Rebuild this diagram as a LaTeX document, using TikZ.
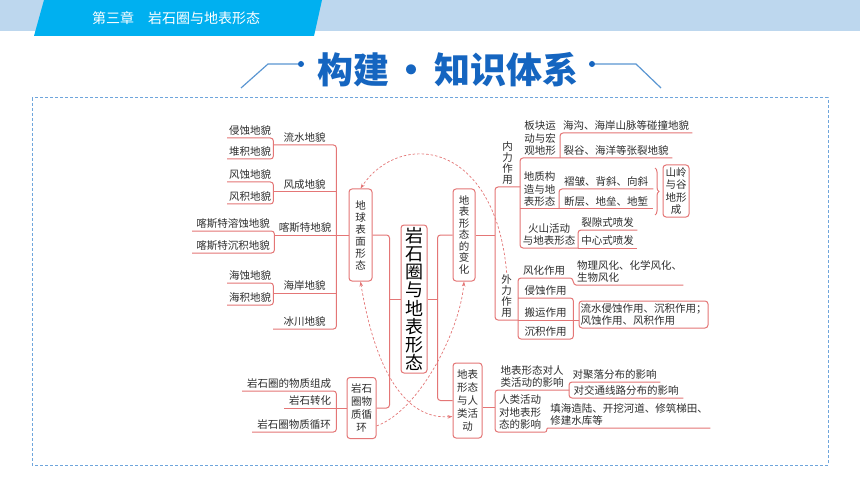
\documentclass[tikz,border=0pt]{standalone}
\usepackage{fontspec}
\setmainfont{Noto Sans CJK SC}
\usetikzlibrary{arrows.meta,calc,decorations.pathreplacing}

\definecolor{linkred}{RGB}{228,118,118}
\definecolor{txtgray}{RGB}{45,45,45}
\definecolor{hdrlight}{RGB}{189,215,238}
\definecolor{hdrdark}{RGB}{0,176,240}
\definecolor{titleblue}{RGB}{21,101,192}
\definecolor{lineblue}{RGB}{90,150,210}
\definecolor{frameblue}{RGB}{110,165,220}

\tikzset{
  mapline/.style={draw=linkred, line width=1pt},
  mapbox/.style={draw=linkred, line width=1pt, rounded corners=3pt, fill=white, inner sep=0pt, align=center, text=txtgray, font=\fontsize{10.5}{12}\selectfont},
  mapitem/.style={anchor=south west, inner xsep=0pt, inner ysep=2pt, align=center, text=txtgray, font=\fontsize{10.5}{12.5}\selectfont},
  flowarrow/.style={draw=linkred, line width=0.7pt, dash pattern=on 2.5pt off 2pt, -{Stealth[length=5pt,width=3.5pt]}},
  titleline/.style={draw=lineblue, line width=1.2pt},
  dashframe/.style={draw=frameblue, line width=1pt, dash pattern=on 3pt off 2pt}
}

\begin{document}
\begin{tikzpicture}[x=1pt,y=-1pt]
			%%%%% START %%%%%
			\useasboundingbox (0,0) rectangle (860,484);
			\fill[white] (0,0) rectangle (860,484);
			
			% header band
			\fill[hdrlight] (0,0) rectangle (860,31);
			\fill[hdrdark] (44,0) -- (322,0) -- (314,36) -- (34,36) -- cycle;
			\node[anchor=west, text=white, inner sep=0pt, font=\fontsize{14}{14}\selectfont] (chapter) at (92,18) {第三章\hspace{1em}岩石圈与地表形态};
			
			% title
			\node[text=titleblue, inner sep=0pt, font=\fontsize{36}{36}\selectfont\bfseries] (title) at (448,70) {构建\hspace{5pt}・\hspace{5pt}知识体系};
			\draw[titleline] (241,88) -- (268,64) -- (298,64);
			\fill[titleblue] (301,64) circle (3pt);
			\fill[titleblue] (592,64) circle (3pt);
			\draw[titleline] (595,64) -- (636,64) -- (661,88);
			
			\draw[dashframe] (32,98) rectangle (828,465);
			
			% left: landforms
			\node[mapitem, minimum width=46] (qinshi) at (227,138) {侵蚀地貌};
			\node[mapitem, minimum width=46] (duiji) at (227,159) {堆积地貌};
			\node[mapitem, minimum width=63] (liushui) at (273,145) {流水地貌};
			\node[mapitem, minimum width=46] (fengshi) at (227,182) {风蚀地貌};
			\node[mapitem, minimum width=46] (fengji) at (227,204) {风积地貌};
			\node[mapitem, minimum width=63] (fengcheng) at (273,192) {风成地貌};
			\node[mapitem, minimum width=82] (kstrongshi) at (192,231) {喀斯特溶蚀地貌};
			\node[mapitem, minimum width=82] (kstchenji) at (192,253) {喀斯特沉积地貌};
			\node[mapitem, minimum width=62] (kst) at (274,235) {喀斯特地貌};
			\node[mapitem, minimum width=46] (haishi) at (227,283) {海蚀地貌};
			\node[mapitem, minimum width=46] (haiji) at (227,305) {海积地貌};
			\node[mapitem, minimum width=63] (haian) at (273,293) {海岸地貌};
			\node[mapitem, minimum width=63] (bingchuan) at (273,329) {冰川地貌};
			
			\draw[mapline, rounded corners=3pt] (qinshi.south west) -- (qinshi.south east) -- (duiji.south east) -- (duiji.south west);
			\draw[mapline, rounded corners=3pt] (fengshi.south west) -- (fengshi.south east) -- (fengji.south east) -- (fengji.south west);
			\draw[mapline, rounded corners=3pt] (kstrongshi.south west) -- (kstrongshi.south east) -- (kstchenji.south east) -- (kstchenji.south west);
			\draw[mapline, rounded corners=3pt] (haishi.south west) -- (haishi.south east) -- (haiji.south east) -- (haiji.south west);
			\draw[mapline, rounded corners=3pt] (liushui.south west) -- (liushui.south east) -- (bingchuan.south east) -- (bingchuan.south west);
			\draw[mapline] (fengcheng.south west) -- (fengcheng.south east);
			\draw[mapline] (kst.south west) -- (kst.south east);
			\draw[mapline] (haian.south west) -- (haian.south east);
			
			\node[mapbox, minimum width=23, minimum height=92] (dqbm) at (360.5,235) {地\\球\\表\\面\\形\\态};
			\draw[mapline] (dqbm.west) -- (dqbm.west -| liushui.south east);
			
			% left: rock cycle
			\node[mapitem, minimum width=94] (zucheng) at (242,391) {岩石圈的物质组成};
			\node[mapitem, minimum width=52] (zhuanhua) at (284,408) {岩石转化};
			\node[mapitem, minimum width=84] (xunhuan) at (252,432) {岩石圈物质循环};
			\draw[mapline, rounded corners=3pt] (zucheng.south west) -- (zucheng.south east) -- (xunhuan.south east) -- (xunhuan.south west);
			\draw[mapline] (zhuanhua.south west) -- (zhuanhua.south east);
			
			\node[mapbox, minimum width=29, minimum height=61, font=\fontsize{10.5}{13}\selectfont] (yswx) at (361.5,408) {岩石\\圈物\\质循\\环};
			\draw[mapline] (yswx.west) -- (yswx.west -| zucheng.south east);
			
			% centre
			\node[mapbox, minimum width=26, minimum height=148, text=black, font=\fontsize{18}{18.2}\selectfont] (core) at (414,299) {岩\\石\\圈\\与\\地\\表\\形\\态};
			\node[mapbox, minimum width=22, minimum height=92, font=\fontsize{10.5}{11.5}\selectfont] (dbbh) at (464,235) {地\\表\\形\\态\\的\\变\\化};
			\node[mapbox, minimum width=29, minimum height=75, font=\fontsize{10.5}{13.2}\selectfont] (dbrl) at (467.5,400.5) {地表\\形态\\与人\\类活\\动};
			
			\draw[mapline, rounded corners=3pt] (dqbm.east) -| ($(core.west)+(-11,0)$) |- (yswx.east);
			\draw[mapline] (core.west) -- ++(-11,0);
			\draw[mapline, rounded corners=3pt] (dbbh.west) -| ($(core.east)+(10,0)$) |- (dbrl.west);
			\draw[mapline] (core.east) -- ++(10,0);
			
			% right: internal and external forces
			\node[mapitem, minimum width=25, font=\fontsize{10.5}{11.3}\selectfont] (neili) at (495,187) {内\\力\\作\\用};
			\node[mapitem, minimum width=23, font=\fontsize{10.5}{11}\selectfont] (waili) at (495,320) {外\\力\\作\\用};
			\draw[mapline, rounded corners=3pt] (neili.south east) -- (neili.south west) -- (waili.south west) -- (waili.south east);
			\draw[mapline] (dbbh.east) -- (dbbh.east -| neili.south west);
			
			\node[mapitem, minimum width=40] (bankuai) at (520,158) {板块运\\动与宏\\观地形};
			\node[mapitem, minimum width=39] (gouzao) at (520,209) {地质构\\造与地\\表形态};
			\node[mapitem, minimum width=58] (huoshan) at (520,248) {火山活动\\与地表形态};
			\node[mapitem, minimum width=132] (haigou) at (560,133) {海沟、海岸山脉等碰撞地貌};
			\node[mapitem, minimum width=112] (liegu) at (560,158) {裂谷、海洋等张裂地貌};
			\node[mapitem, minimum width=94] (zhezhou) at (559,189) {褶皱、背斜、向斜};
			\node[mapitem, minimum width=94] (duanceng) at (559,209) {断层、地垒、地堑};
			\node[mapitem, minimum width=59] (liexi) at (578,230) {裂隙式喷发};
			\node[mapitem, minimum width=59] (zxpf) at (578,248) {中心式喷发};
			
			\draw[mapline, rounded corners=3pt] (liegu.south east) -- (bankuai.south west) -- (huoshan.south west) -- (huoshan.south east);
			\draw[mapline] (gouzao.south west) -- (duanceng.south east);
			\draw[mapline, rounded corners=3pt] (haigou.south east) -- (haigou.south west) -- (liegu.south west);
			\draw[mapline, rounded corners=3pt] (zhezhou.south east) -- (zhezhou.south west) -- (duanceng.south west);
			\draw[mapline, rounded corners=3pt] (liexi.south east) -- (liexi.south west) -- (zxpf.south west);
			\draw[mapline] (zxpf.south west) -- (zxpf.south east);
			
			\coordinate (bracetop) at (655,168);
			\coordinate (bracebot) at (655,215);
			\draw[mapline, decorate, decoration={brace, amplitude=4pt}] (bracetop) -- (bracebot);
			\node[mapbox, minimum width=26, minimum height=52, font=\fontsize{10.5}{12.5}\selectfont] (shanling) at (676,191) {山岭\\与谷\\地形\\成};
			
			\node[mapitem, minimum width=52] (fenghua) at (518,278) {风化作用};
			\node[mapitem, minimum width=55] (qinshizy) at (518,298) {侵蚀作用};
			\node[mapitem, minimum width=55] (banyun) at (518,320) {搬运作用};
			\node[mapitem, minimum width=55] (chenjizy) at (518,339) {沉积作用};
			\node[mapitem, minimum width=107, align=left] (wuli) at (576,285) {物理风化、化学风化、\\生物风化};
			\node[mapbox, minimum width=129, minimum height=27, align=left] (lszy) at (643.5,314.5) {流水侵蚀作用、沉积作用；\\风蚀作用、风积作用};
			
			\draw[mapline, rounded corners=3pt] (fenghua.south east) -- (fenghua.south west) -- (chenjizy.south west) -- (chenjizy.south east) -- (qinshizy.south east) -- (qinshizy.south west);
			\draw[mapline] (fenghua.south east) to[out=0,in=180] (wuli.south west) -- (wuli.south east);
			\draw[mapline] (banyun.south west) -- (banyun.south east -| lszy.west);
			
			% right: landforms and human activity
			\node[mapitem, minimum width=74] (dbdr) at (495,390) {地表形态对人\\类活动的影响};
			\node[mapitem, minimum width=50] (rldb) at (495,432) {人类活动\\对地表形\\态的影响};
			\node[mapitem, minimum width=91] (julu) at (569,382) {对聚落分布的影响};
			\node[mapitem, minimum width=114] (jiaotong) at (569,398) {对交通线路分布的影响};
			\node[mapitem, minimum width=162, align=left] (tianhai) at (548,428) {填海造陆、开挖河道、修筑梯田、\\修建水库等};
			
			\draw[mapline, rounded corners=3pt] (dbdr.south east) -- (dbdr.south west) -- (rldb.south west) -- (rldb.south east);
			\draw[mapline] ($(dbrl.east)+(0,7)$) -- ($(dbrl.east -| dbdr.south west)+(0,7)$);
			\draw[mapline, rounded corners=3pt] (julu.south east) -- (julu.south west) -- (jiaotong.south west) -- (jiaotong.south east);
			\draw[mapline] (rldb.south east) to[out=0,in=180] (tianhai.south west) -- (tianhai.south east);
			
			% dashed links
			\draw[flowarrow] (waili.north) .. controls (495,140) and (400,130) .. (dqbm.north);
			\draw[flowarrow] ($(yswx.south east)+(0,-13)$) .. controls (420,410) and (460,330) .. (dbbh.south);
			\draw[flowarrow, {Stealth[length=5pt,width=3.5pt]}-{Stealth[length=5pt,width=3.5pt]}] (dqbm.south) .. controls (375,370) and (405,420) .. ($(dbrl.west)+(0,16)$);
			
			%%%%% END %%%%%
\end{tikzpicture}
\end{document}
